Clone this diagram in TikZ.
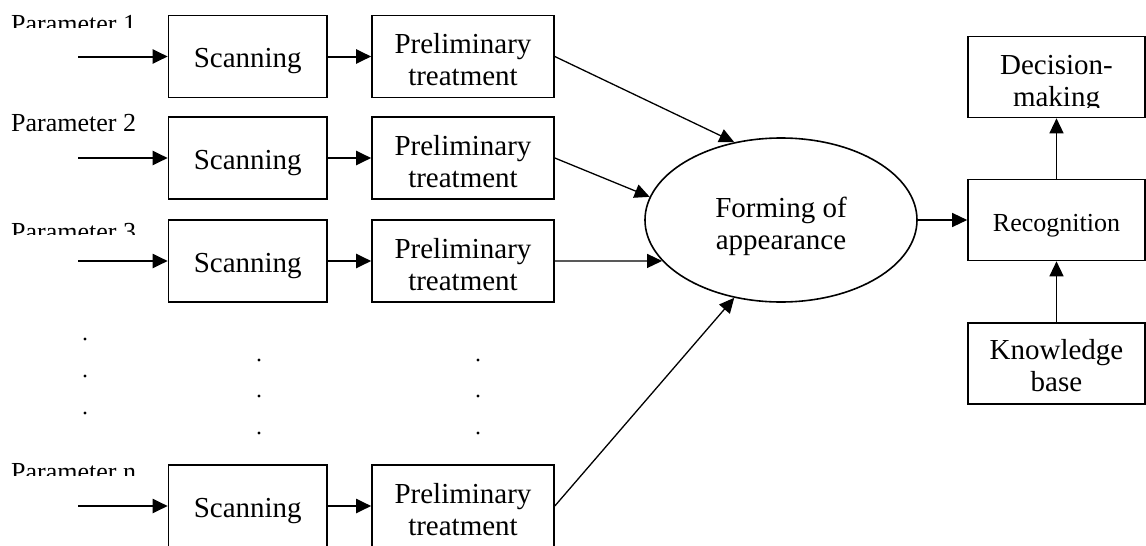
\documentclass[tikz,border=0pt]{standalone}
\usepackage{fontspec}
\setmainfont{Liberation Serif}
\usetikzlibrary{arrows.meta,shapes.geometric}
\begin{document}
\begin{tikzpicture}[x=1pt,y=-1pt,
  every node/.style={font=\fontsize{29}{32}\selectfont, inner sep=0pt},
  sbox/.style={draw, line width=1.6pt, minimum width=158.5pt, minimum height=82pt, text height=22pt, text depth=0pt},
  pbox/.style={draw, line width=1.6pt, minimum width=182pt, minimum height=82pt, align=center},
  rbox/.style={draw, line width=1.6pt, minimum width=177pt, minimum height=81pt, align=center},
  ell/.style={draw, ellipse, line width=1.6pt, minimum width=272pt, minimum height=164pt, align=center},
  plabel/.style={font=\fontsize{26}{30}\selectfont, anchor=base west},
  tipA/.style={-{Triangle[length=15pt,width=14pt]}},
  heavy/.style={tipA, line width=2pt},
  light/.style={tipA, line width=1.3pt},
  dotmark/.style={circle, fill, minimum size=3.2pt, inner sep=0pt}
]
\useasboundingbox (0,0) rectangle (1146,546);
\clip (0,0) rectangle (1146,546);

% parameter labels (clipped as in the reference)
\begin{scope}
  \clip (0,0) rectangle (160,27);
  \node[plabel] (par1) at (11,32) {Parameter 1};
\end{scope}
\node[plabel] (par2) at (11,131) {Parameter 2};
\begin{scope}
  \clip (0,200) rectangle (160,234);
  \node[plabel] (par3) at (11,240) {Parameter 3};
\end{scope}
\begin{scope}
  \clip (0,440) rectangle (160,475);
  \node[plabel] (parn) at (11,480) {Parameter n};
\end{scope}

% rows
\foreach \r/\y in {1/56.5, 2/158, 3/261, n/506}{
  \node[sbox] (s\r) at (247.75,\y) {Scanning};
  \node[pbox] (p\r) at (463,\y) {\rule{0pt}{27pt}Preliminary\\treatment};
  \coordinate (in\r) at (78,\y);
  \draw[heavy] (in\r) -- (s\r.west);
  \draw[heavy] (s\r.east) -- (p\r.west);
}

% ellipse
\node[ell] (form) at (781,220) {\rule{0pt}{32.3pt}Forming of\\appearance};

\draw[light] (p1.east) -- (form.121.9);
\draw[light] (p2.east) -- (form.170.5);
\draw[light] (p3.east) -- (form.199.19);
\draw[light] (pn.east) -- (form.239.1);

% right column
\node[rbox] (dec) at (1056.5,77) {};
\begin{scope}
  \clip (960,30) rectangle (1146,107);
  \node[align=center] (dectxt) at (1056.5,77) {\rule{0pt}{32.3pt}Decision-\\making};
\end{scope}
\node[rbox, font=\fontsize{26}{30}\selectfont, text height=22pt, text depth=0pt] (rec) at (1056.5,220) {Recognition};
\node[rbox] (kb) at (1056.5,363.5) {\rule{0pt}{25pt}Knowledge\\base};

\draw[light] (form.east) -- (rec.west);
\draw[light] (rec.north) -- (dec.south);
\draw[light] (kb.north) -- (rec.south);

% dots
\foreach \y [count=\i] in {339,376,413}{
  \node[dotmark] (da\i) at (85,\y) {};
}
\foreach \y [count=\i] in {360,396,433}{
  \node[dotmark] (db\i) at (259,\y) {};
  \node[dotmark] (dc\i) at (478,\y) {};
}
\end{tikzpicture}
\end{document}
